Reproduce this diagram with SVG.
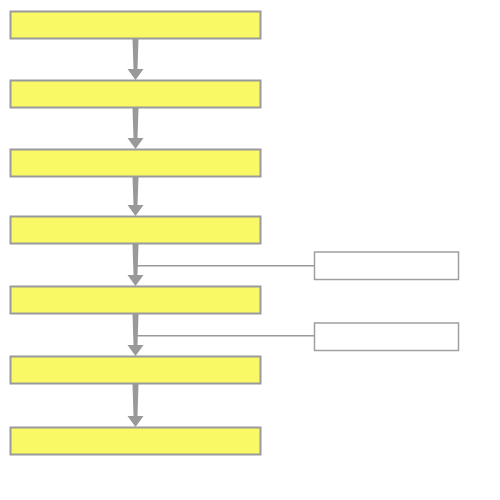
<svg xmlns="http://www.w3.org/2000/svg" width="500" height="500" viewBox="0 0 500 500">
<style>
.step{fill:#f9f966;stroke:#9a9a9a;stroke-width:2}
.note{fill:#ffffff;stroke:#a0a0a0;stroke-width:1.5}
.link{stroke:#999999;stroke-width:1.5;fill:none}
.head{fill:#999999}
</style>
<g id="connectors">
<path class="head" d="M132.5,39 L138.5,39 L137.5,69 L143.5,69 L135.5,80 L127.5,69 L133.5,69 Z"/>
<path class="head" d="M132.5,108 L138.5,108 L137.5,138 L143.5,138 L135.5,149 L127.5,138 L133.5,138 Z"/>
<path class="head" d="M132.5,177 L138.5,177 L137.5,205 L143.5,205 L135.5,216 L127.5,205 L133.5,205 Z"/>
<path class="head" d="M132.5,244 L138.5,244 L137.5,275 L143.5,275 L135.5,286 L127.5,275 L133.5,275 Z"/>
<path class="head" d="M132.5,314 L138.5,314 L137.5,345 L143.5,345 L135.5,356 L127.5,345 L133.5,345 Z"/>
<path class="head" d="M132.5,384 L138.5,384 L137.5,416 L143.5,416 L135.5,427 L127.5,416 L133.5,416 Z"/>
<path class="link" d="M137,265.7 L314,265.7"/>
<path class="link" d="M137,335.7 L314,335.7"/>
</g>
<g id="n1"><rect class="step" x="10.5" y="11.5" width="250" height="27"/></g>
<g id="n2"><rect class="step" x="10.5" y="80.5" width="250" height="27"/></g>
<g id="n3"><rect class="step" x="10.5" y="149.5" width="250" height="27"/></g>
<g id="n4"><rect class="step" x="10.5" y="216.5" width="250" height="27"/></g>
<g id="n5"><rect class="step" x="10.5" y="286.5" width="250" height="27"/></g>
<g id="n6"><rect class="step" x="10.5" y="356.5" width="250" height="27"/></g>
<g id="n7"><rect class="step" x="10.5" y="427.5" width="250" height="27"/></g>
<g id="s1"><rect class="note" x="314.5" y="252" width="144" height="27.5"/></g>
<g id="s2"><rect class="note" x="314.5" y="323" width="144" height="27.5"/></g>
</svg>
